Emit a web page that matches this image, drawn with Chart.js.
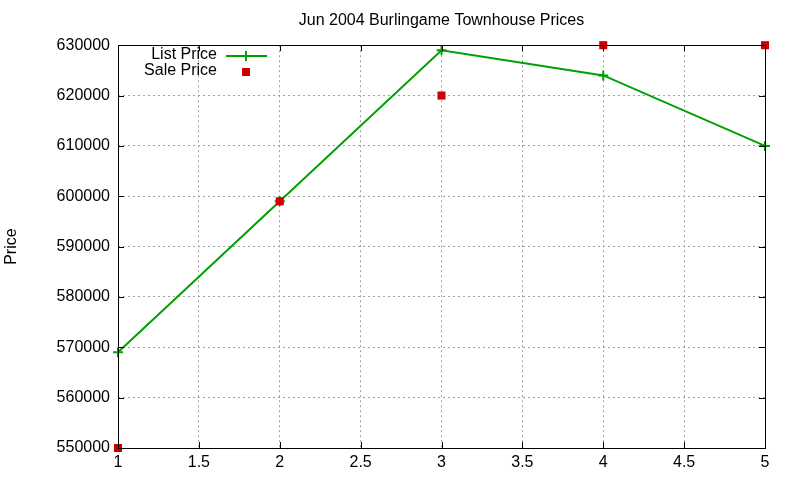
<!DOCTYPE html>
<html>
<head>
<meta charset="utf-8">
<script src="https://cdn.jsdelivr.net/npm/chart.js@4"></script>
<style>
  html, body { margin: 0; padding: 0; background: #fff; }
  #wrap { width: 800px; height: 480px; }
</style>
</head>
<body>
<div id="wrap"><canvas id="myChart" width="800" height="480"></canvas></div>
<script>
const months = [1, 2, 3, 4, 5];
const listPrice = [569000, 599000, 629000, 624000, 610000];
const salePrice = [550000, 599000, 620000, 630000, 630000];
const xTicks = [1, 1.5, 2, 2.5, 3, 3.5, 4, 4.5, 5];
const yTicks = [550000, 560000, 570000, 580000, 590000, 600000, 610000, 620000, 630000];

const FONT = 'Liberation Sans, Arial, sans-serif';

// gnuplot-like frame with inward ticks on every side
const framePlugin = {
    id: 'frame',
    afterDatasetsDraw(chart) {
        const ctx = chart.ctx;
        const a = chart.chartArea;
        const xs = chart.scales.x, ys = chart.scales.y;
        ctx.save();
        ctx.strokeStyle = '#000';
        ctx.lineWidth = 1;
        ctx.beginPath();
        xTicks.forEach(v => {
            const px = Math.round(xs.getPixelForValue(v)) + 0.5;
            ctx.moveTo(px, a.bottom); ctx.lineTo(px, a.bottom - 6);
            ctx.moveTo(px, a.top); ctx.lineTo(px, a.top + 6);
        });
        yTicks.forEach(v => {
            const py = Math.round(ys.getPixelForValue(v)) + 0.5;
            ctx.moveTo(a.left, py); ctx.lineTo(a.left + 6, py);
            ctx.moveTo(a.right, py); ctx.lineTo(a.right - 6, py);
        });
        ctx.stroke();
        ctx.strokeRect(Math.round(a.left) + 0.5, Math.round(a.top) + 0.5,
            Math.round(a.right - a.left), Math.round(a.bottom - a.top));
        ctx.restore();
    },
    afterDraw(chart) {
        // legend, top-left inside the plot
        const ctx = chart.ctx;
        const ds = chart.data.datasets;
        ctx.save();
        ctx.font = '16px ' + FONT;
        ctx.fillStyle = '#000';
        ctx.textAlign = 'right';
        ctx.textBaseline = 'middle';
        ctx.fillText(ds[0].label, 217, 55);
        ctx.fillText(ds[1].label, 217, 71);
        ctx.strokeStyle = ds[0].borderColor;
        ctx.lineWidth = 2;
        ctx.beginPath();
        ctx.moveTo(226, 56); ctx.lineTo(267, 56);
        ctx.moveTo(246, 51); ctx.lineTo(246, 61);
        ctx.stroke();
        ctx.fillStyle = ds[1].backgroundColor;
        ctx.fillRect(242, 68, 8, 8);
        ctx.restore();
    }
};

function gridColor(c) {
    const v = c.tick && c.tick.value;
    const s = c.scale;
    return (v === s.min || v === s.max) ? 'rgba(0,0,0,0)' : '#a0a0a0';
}

new Chart(document.getElementById('myChart').getContext('2d'), {
    type: 'scatter',
    data: {
        datasets: [{
            label: 'List Price',
            data: months.map((m, i) => ({ x: m, y: listPrice[i] })),
            showLine: true,
            order: 1,
            borderColor: '#00a000',
            backgroundColor: '#00a000',
            borderWidth: 2,
            pointStyle: 'cross',
            pointRadius: 5,
            pointBorderWidth: 2,
            clip: false
        }, {
            label: 'Sale Price',
            data: months.map((m, i) => ({ x: m, y: salePrice[i] })),
            showLine: false,
            order: 0,
            borderColor: '#cc0000',
            backgroundColor: '#cc0000',
            pointStyle: 'rect',
            pointRadius: 5.7,
            pointBorderWidth: 0,
            clip: false
        }]
    },
    options: {
        responsive: false,
        animation: false,
        devicePixelRatio: 1,
        layout: { padding: { left: 0, right: 35, top: 0, bottom: 0 } },
        plugins: {
            legend: { display: false },
            tooltip: { enabled: false },
            title: {
                display: true,
                fullSize: false,
                text: 'Jun 2004 Burlingame Townhouse Prices',
                color: '#000',
                font: { family: FONT, size: 16, weight: 'normal' },
                padding: { top: 11, bottom: 15 }
            }
        },
        scales: {
            x: {
                type: 'linear',
                min: 1, max: 5,
                afterBuildTicks: s => { s.ticks = xTicks.map(v => ({ value: v })); },
                afterFit: s => { s.height = 32; },
                ticks: {
                    color: '#000',
                    font: { family: FONT, size: 16 },
                    padding: 5,
                    maxRotation: 0,
                    callback: v => String(v)
                },
                grid: { color: gridColor, lineWidth: 1, drawTicks: false, tickLength: 0 },
                border: { display: false, dash: [2, 3] }
            },
            y: {
                min: 550000, max: 630000,
                afterBuildTicks: s => { s.ticks = yTicks.map(v => ({ value: v })); },
                afterFit: s => { s.width = 118; },
                ticks: {
                    color: '#000',
                    font: { family: FONT, size: 16 },
                    padding: 8,
                    callback: v => String(v)
                },
                grid: { color: gridColor, lineWidth: 1, drawTicks: false, tickLength: 0 },
                border: { display: false, dash: [2, 3] },
                title: {
                    display: true,
                    text: 'Price',
                    color: '#000',
                    font: { family: FONT, size: 16 },
                    padding: { top: 2, bottom: 0 }
                }
            }
        }
    },
    plugins: [framePlugin]
});
</script>
</body>
</html>
